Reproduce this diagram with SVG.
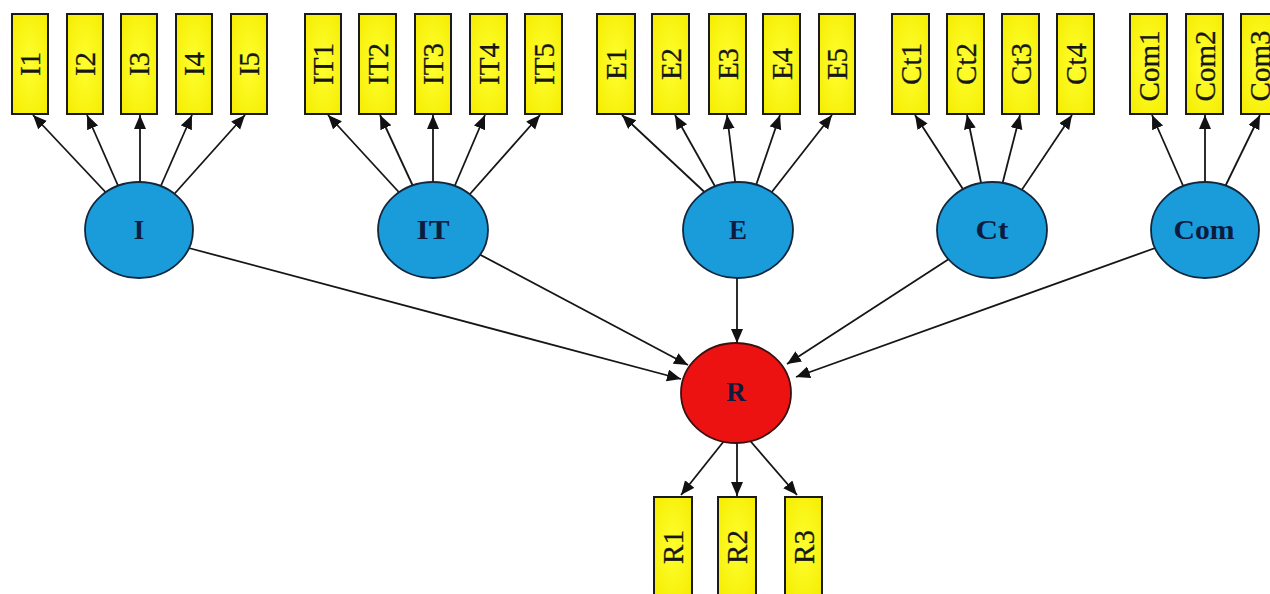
<svg xmlns="http://www.w3.org/2000/svg" width="1270" height="594" viewBox="0 0 1270 594">
<defs>
<marker id="ah" markerUnits="userSpaceOnUse" markerWidth="15" markerHeight="13" refX="14" refY="6" orient="auto">
<path d="M0,0 L14,6 L0,12 z" fill="#111"/>
</marker>
<radialGradient id="yg" cx="50%" cy="50%" r="70%">
<stop offset="0" stop-color="#ffff30"/>
<stop offset="1" stop-color="#f4ec00"/>
</radialGradient>
</defs>
<style>
.box{fill:url(#yg);stroke:#1a1a1a;stroke-width:2}
.lat{fill:#1a9cdb;stroke:#13263a;stroke-width:1.8}
.red{fill:#ec1212;stroke:#3a1010;stroke-width:1.8}
.bt{font-family:"Liberation Serif",serif;font-size:29px;fill:#161616;text-anchor:middle;dominant-baseline:central;stroke:#161616;stroke-width:0.3}
.lt{font-family:"Liberation Serif",serif;font-size:27px;font-weight:bold;fill:#0d1b3e;text-anchor:middle;dominant-baseline:central}
.e{stroke:#161616;stroke-width:1.8;fill:none;marker-end:url(#ah)}
</style>
<rect width="1270" height="594" fill="#ffffff"/>
<g id="connectors">
<line class="e" x1="112" y1="199" x2="33" y2="115"/>
<line class="e" x1="123" y1="197" x2="87" y2="115"/>
<line class="e" x1="140" y1="197" x2="140" y2="115"/>
<line class="e" x1="156" y1="197" x2="192" y2="115"/>
<line class="e" x1="168" y1="201" x2="245" y2="115"/>
<line class="e" x1="407" y1="201" x2="328" y2="115"/>
<line class="e" x1="418" y1="197" x2="380" y2="115"/>
<line class="e" x1="433" y1="197" x2="433" y2="115"/>
<line class="e" x1="450" y1="197" x2="485" y2="115"/>
<line class="e" x1="462" y1="203" x2="540" y2="115"/>
<line class="e" x1="713" y1="200" x2="622" y2="115"/>
<line class="e" x1="721" y1="197" x2="675" y2="115"/>
<line class="e" x1="737" y1="197" x2="727" y2="115"/>
<line class="e" x1="752" y1="197" x2="780" y2="115"/>
<line class="e" x1="764" y1="202" x2="832" y2="115"/>
<line class="e" x1="970" y1="200" x2="915" y2="115"/>
<line class="e" x1="984" y1="197" x2="967" y2="115"/>
<line class="e" x1="999" y1="197" x2="1020" y2="115"/>
<line class="e" x1="1015" y1="200" x2="1072" y2="115"/>
<line class="e" x1="1188" y1="197" x2="1152" y2="115"/>
<line class="e" x1="1205" y1="197" x2="1205" y2="115"/>
<line class="e" x1="1220" y1="197" x2="1260" y2="115"/>
<line class="e" x1="185" y1="247" x2="681" y2="379"/>
<line class="e" x1="475" y1="252" x2="688" y2="365"/>
<line class="e" x1="737" y1="270" x2="737" y2="343"/>
<line class="e" x1="952" y1="257" x2="787" y2="364"/>
<line class="e" x1="1158" y1="247" x2="796" y2="377"/>
<line class="e" x1="728" y1="436" x2="681" y2="495"/>
<line class="e" x1="737" y1="438" x2="737" y2="496"/>
<line class="e" x1="746" y1="436" x2="797" y2="495"/>
</g>
<g id="I1"><rect class="box" x="12" y="14" width="36" height="100"/><text class="bt" transform="translate(30,64) rotate(-90)">I1</text></g>
<g id="I2"><rect class="box" x="67" y="14" width="36" height="100"/><text class="bt" transform="translate(85,64) rotate(-90)">I2</text></g>
<g id="I3"><rect class="box" x="121" y="14" width="36" height="100"/><text class="bt" transform="translate(139,64) rotate(-90)">I3</text></g>
<g id="I4"><rect class="box" x="176" y="14" width="36" height="100"/><text class="bt" transform="translate(194,64) rotate(-90)">I4</text></g>
<g id="I5"><rect class="box" x="231" y="14" width="36" height="100"/><text class="bt" transform="translate(249,64) rotate(-90)">I5</text></g>
<g id="IT1"><rect class="box" x="305" y="14" width="36" height="100"/><text class="bt" transform="translate(323,64) rotate(-90)">IT1</text></g>
<g id="IT2"><rect class="box" x="359" y="14" width="37" height="100"/><text class="bt" transform="translate(377.5,64) rotate(-90)">IT2</text></g>
<g id="IT3"><rect class="box" x="415" y="14" width="36" height="100"/><text class="bt" transform="translate(433,64) rotate(-90)">IT3</text></g>
<g id="IT4"><rect class="box" x="470" y="14" width="37" height="100"/><text class="bt" transform="translate(488.5,64) rotate(-90)">IT4</text></g>
<g id="IT5"><rect class="box" x="525" y="14" width="37" height="100"/><text class="bt" transform="translate(543.5,64) rotate(-90)">IT5</text></g>
<g id="E1"><rect class="box" x="597" y="14" width="38" height="100"/><text class="bt" transform="translate(616,64) rotate(-90)">E1</text></g>
<g id="E2"><rect class="box" x="652" y="14" width="37" height="100"/><text class="bt" transform="translate(670.5,64) rotate(-90)">E2</text></g>
<g id="E3"><rect class="box" x="709" y="14" width="37" height="100"/><text class="bt" transform="translate(727.5,64) rotate(-90)">E3</text></g>
<g id="E4"><rect class="box" x="763" y="14" width="37" height="100"/><text class="bt" transform="translate(781.5,64) rotate(-90)">E4</text></g>
<g id="E5"><rect class="box" x="819" y="14" width="36" height="100"/><text class="bt" transform="translate(837,64) rotate(-90)">E5</text></g>
<g id="Ct1"><rect class="box" x="892" y="14" width="37" height="100"/><text class="bt" transform="translate(910.5,64) rotate(-90)">Ct1</text></g>
<g id="Ct2"><rect class="box" x="947" y="14" width="37" height="100"/><text class="bt" transform="translate(965.5,64) rotate(-90)">Ct2</text></g>
<g id="Ct3"><rect class="box" x="1002" y="14" width="37" height="100"/><text class="bt" transform="translate(1020.5,64) rotate(-90)">Ct3</text></g>
<g id="Ct4"><rect class="box" x="1057" y="14" width="37" height="100"/><text class="bt" transform="translate(1075.5,64) rotate(-90)">Ct4</text></g>
<g id="Com1"><rect class="box" x="1130" y="14" width="37" height="100"/><text class="bt" transform="translate(1148.5,66) rotate(-90)">Com1</text></g>
<g id="Com2"><rect class="box" x="1186" y="14" width="37" height="100"/><text class="bt" transform="translate(1204.5,66) rotate(-90)">Com2</text></g>
<g id="Com3"><rect class="box" x="1241" y="14" width="37" height="100"/><text class="bt" transform="translate(1259.5,66) rotate(-90)">Com3</text></g>
<g id="R1"><rect class="box" x="654" y="497" width="38" height="100"/><text class="bt" transform="translate(673,547) rotate(-90)">R1</text></g>
<g id="R2"><rect class="box" x="718" y="497" width="38" height="100"/><text class="bt" transform="translate(737,547) rotate(-90)">R2</text></g>
<g id="R3"><rect class="box" x="785" y="497" width="37" height="100"/><text class="bt" transform="translate(803.5,547) rotate(-90)">R3</text></g>
<g id="I"><ellipse class="lat" cx="139" cy="230" rx="54" ry="48"/><text class="lt" x="139" y="230">I</text></g>
<g id="IT"><ellipse class="lat" cx="433" cy="230" rx="55" ry="48"/><text class="lt" x="433" y="230" textLength="33" lengthAdjust="spacingAndGlyphs">IT</text></g>
<g id="E"><ellipse class="lat" cx="738" cy="230" rx="55" ry="48"/><text class="lt" x="738" y="230">E</text></g>
<g id="Ct"><ellipse class="lat" cx="992" cy="230" rx="55" ry="48"/><text class="lt" x="992" y="230" textLength="33" lengthAdjust="spacingAndGlyphs">Ct</text></g>
<g id="Com"><ellipse class="lat" cx="1205" cy="230" rx="54" ry="48"/><text class="lt" x="1204" y="230" textLength="61" lengthAdjust="spacingAndGlyphs">Com</text></g>
<g id="R"><ellipse class="red" cx="736" cy="393" rx="55" ry="50"/><text class="lt" x="736" y="392">R</text></g>
</svg>
